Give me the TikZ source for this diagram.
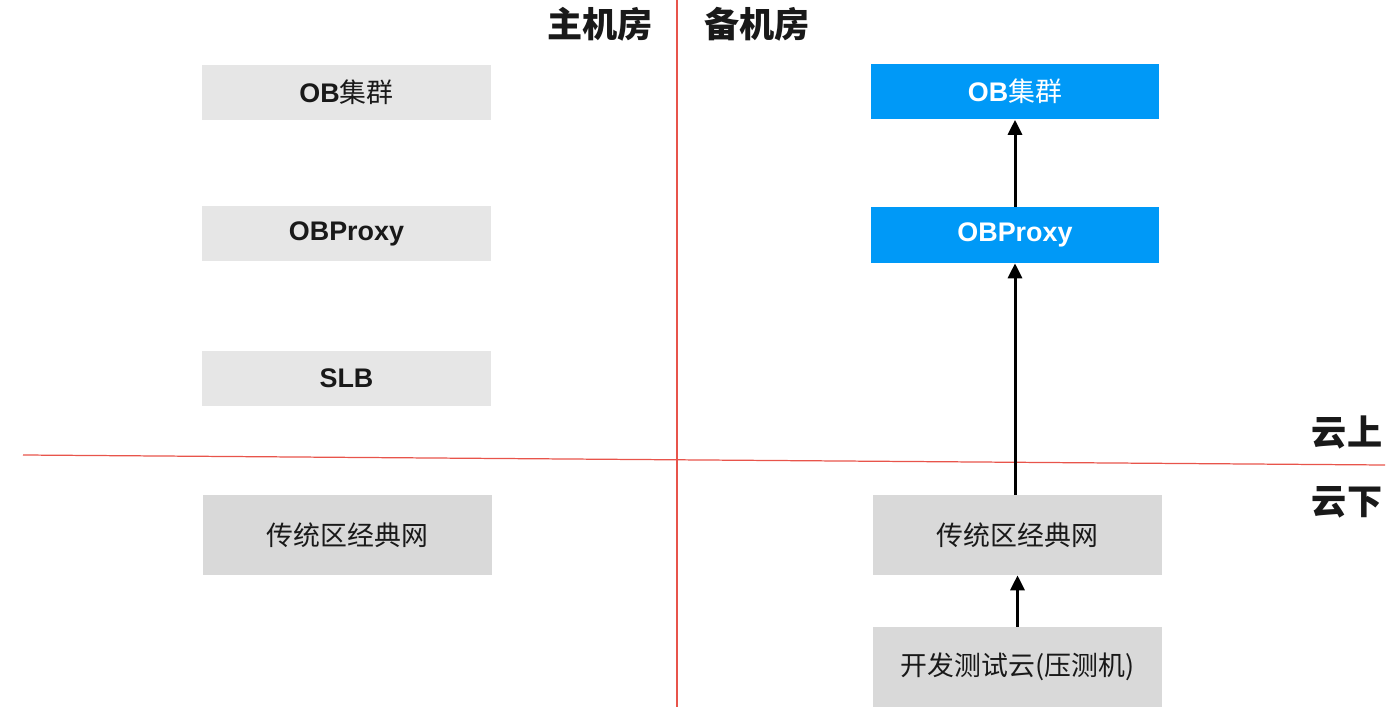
\documentclass[tikz,border=0pt]{standalone}
\usepackage{fontspec}
\newfontfamily\cjk{Noto Sans CJK SC}
\newfontfamily\latin{Liberation Sans}
\usetikzlibrary{arrows.meta, positioning}
\definecolor{obblue}{HTML}{0099F7}
\definecolor{boxgray}{HTML}{E6E6E6}
\definecolor{netgray}{HTML}{D9D9D9}
\definecolor{splitred}{HTML}{E8544B}
\newcommand{\lat}[1]{{\latin\bfseries #1}}

\begin{document}
\begin{tikzpicture}[x=0.02cm, y=-0.02cm,
  box/.style={fill=boxgray, minimum width=5.78cm, minimum height=1.12cm, inner sep=0pt, font=\cjk\fontsize{15.3}{18}\selectfont, text=black!90},
  bluebox/.style={box, fill=obblue, text=white},
  netbox/.style={box, fill=netgray, minimum height=1.6cm},
  head/.style={font=\cjk\bfseries\fontsize{20}{22}\selectfont, text=black!90},
  link/.style={line width=1.7pt, -{Triangle[width=8pt,length=8.5pt]}}]
\useasboundingbox (0,0) rectangle (1400,726);
% split lines
\draw [splitred, line width=0.7pt] (677,0) -- (677,707);
\draw [splitred, line width=0.7pt] (23,455) -- (1385,465);
% headers
\node (main) at (600,24) [head] {主机房};
\node (backup) at (757,24) [head] {备机房};
\node (cloudup) at (1347,432) [head] {云上};
\node (clouddown) at (1347,502) [head] {云下};
% main room
\node (mcluster) at (346.5,92.5) [box] {\lat{OB}集群};
\node (mproxy) at (346.5,233.5) [box] {\lat{OBProxy}};
\node (mslb) at (346.5,378.5) [box] {\lat{SLB}};
\node (mnet) at (347.5,535) [netbox] {传统区经典网};
% backup room
\node (bcluster) at (1015,91.5) [bluebox] {\lat{OB}集群};
\node (bproxy) at (1015,235) [bluebox] {\lat{OBProxy}};
\node (bnet) at (1017.5,535) [netbox] {传统区经典网};
\node (btest) at (1017.5,667) [netbox] {开发测试云(压测机)};
\draw [link] (bproxy.north) -- (bcluster.south);
\draw [link] (bnet.north -| bproxy.south) -- (bproxy.south);
\draw [link] (btest.north) -- (bnet.south);
\end{tikzpicture}
\end{document}
